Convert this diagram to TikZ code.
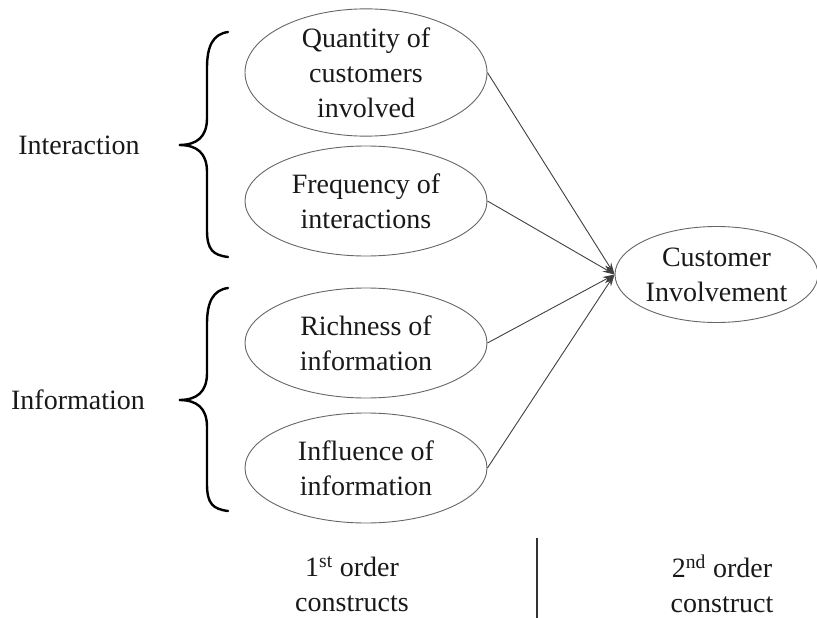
\documentclass[tikz,border=0pt]{standalone}
\usepackage{fontspec}
\setmainfont{Liberation Serif}
\usetikzlibrary{shapes.geometric,arrows.meta}
\begin{document}
\begin{tikzpicture}[x=1pt,y=-1pt,
  every node/.style={font=\fontsize{28}{35}\selectfont, text=black!90},
  construct/.style={ellipse, draw=black!60, line width=0.9pt, minimum width=242pt, minimum height=110pt, inner sep=0pt, align=center},
  arr/.style={draw=black!75, line width=0.9pt, -{Stealth[length=12pt,width=7pt]}},
  bracepath/.style={draw=black, line width=2.4pt, line cap=round},
  lbl/.style={align=center}]
\useasboundingbox (0,0) rectangle (817,618);
\node[construct] (e1) at (366,72.5) {Quantity of\\customers\\involved};
\node[construct] (e2) at (366,201) {Frequency of\\interactions};
\node[construct] (e3) at (366,343) {Richness of\\information};
\node[construct] (e4) at (366,468) {Influence of\\information};
\node[construct, minimum width=203pt, minimum height=96pt] (ci) at (716.5,274.5) {Customer\\Involvement};
\draw[arr] (e1.east) -- (ci.west);
\draw[arr] (e2.east) -- (ci.west);
\draw[arr] (e3.east) -- (ci.west);
\draw[arr] (e4.east) -- (ci.west);
\node (int) at (79,145) {Interaction};
\node (inf) at (78,400) {Information};
\draw[bracepath] (228,32) .. controls (213,34) and (207,46) .. (207,68) -- (207,118) .. controls (207,137) and (197,145) .. (179,145) .. controls (197,145) and (207,153) .. (207,172) -- (207,230) .. controls (207,250) and (213,255) .. (228,257);
\draw[bracepath] (228,288) .. controls (213,290) and (207,302) .. (207,324) -- (207,373) .. controls (207,392) and (197,400) .. (179,400) .. controls (197,400) and (207,408) .. (207,427) -- (207,484) .. controls (207,504) and (213,509) .. (228,511);
\node[lbl] (first) at (352,584) {1\textsuperscript{st} order\\constructs};
\node[lbl] (second) at (722,584) {2\textsuperscript{nd} order\\construct};
\coordinate (sepTop) at (537,538);
\coordinate (sepBot) at (537,618);
\draw[draw=black!80, line width=1.8pt] (sepTop) -- (sepBot);
\end{tikzpicture}
\end{document}
